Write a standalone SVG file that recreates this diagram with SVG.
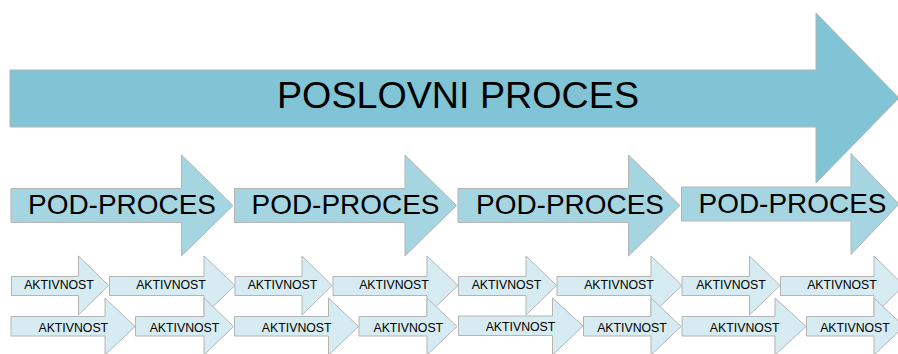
<svg xmlns="http://www.w3.org/2000/svg" width="898" height="354" viewBox="0 0 898 354">
<style>
.big{fill:#80C4D5;stroke:#B4B4B4;stroke-width:1}
.pod{fill:#A6D5E2;stroke:#B4B4B4;stroke-width:1}
.act{fill:#D6ECF2;stroke:#B4B4B4;stroke-width:1}
text{font-family:"Liberation Sans",Arial,sans-serif;fill:#000;text-anchor:middle}
.tb{font-size:36.5px}
.tp{font-size:27.5px}
.ta{font-size:12.3px}
</style>
<rect width="898" height="354" fill="#fff"/>
<g id="poslovni-proces">
<polygon class="big" points="10,70 816,70 816,13 899,98 816,183 816,127 10,127"/>
<text class="tb" x="458" y="108" textLength="362" lengthAdjust="spacingAndGlyphs">POSLOVNI PROCES</text>
</g>
<g id="pod-proces-1">
<polygon class="pod" points="11,188.5 181.5,188.5 181.5,155 233,205.5 181.5,256 181.5,222.5 11,222.5"/>
<text class="tp" x="122" y="214" textLength="188" lengthAdjust="spacingAndGlyphs">POD-PROCES</text>
</g>
<g id="pod-proces-2">
<polygon class="pod" points="234.5,188.5 405,188.5 405,155 456.5,205.5 405,256 405,222.5 234.5,222.5"/>
<text class="tp" x="345.5" y="214" textLength="188" lengthAdjust="spacingAndGlyphs">POD-PROCES</text>
</g>
<g id="pod-proces-3">
<polygon class="pod" points="458,188.5 628.5,188.5 628.5,155 680,205.5 628.5,256 628.5,222.5 458,222.5"/>
<text class="tp" x="570" y="214" textLength="188" lengthAdjust="spacingAndGlyphs">POD-PROCES</text>
</g>
<g id="pod-proces-4">
<polygon class="pod" points="681.5,187 851,187 851,153.5 899,204 851,254.5 851,221 681.5,221"/>
<text class="tp" x="792.5" y="212.5" textLength="188" lengthAdjust="spacingAndGlyphs">POD-PROCES</text>
</g>
<!-- row A -->
<g id="aktivnost-a1"><polygon class="act" points="11.5,276.5 78.5,276.5 78.5,256 108.5,285.5 78.5,315 78.5,295.5 11.5,295.5"/><text class="ta" x="59" y="289">AKTIVNOST</text></g>
<g id="aktivnost-a2"><polygon class="act" points="109.5,276.5 204,276.5 204,256 235,285.5 204,315 204,295.5 109.5,295.5"/><text class="ta" x="171" y="289">AKTIVNOST</text></g>
<g id="aktivnost-a3"><polygon class="act" points="235,276.5 302,276.5 302,256 332,285.5 302,315 302,295.5 235,295.5"/><text class="ta" x="282.5" y="289">AKTIVNOST</text></g>
<g id="aktivnost-a4"><polygon class="act" points="333,276.5 427,276.5 427,256 458,285.5 427,315 427,295.5 333,295.5"/><text class="ta" x="394" y="289">AKTIVNOST</text></g>
<g id="aktivnost-a5"><polygon class="act" points="458.5,276.5 526,276.5 526,256 556.5,285.5 526,315 526,295.5 458.5,295.5"/><text class="ta" x="506.5" y="289">AKTIVNOST</text></g>
<g id="aktivnost-a6"><polygon class="act" points="557,276.5 651,276.5 651,256 682,285.5 651,315 651,295.5 557,295.5"/><text class="ta" x="619" y="289">AKTIVNOST</text></g>
<g id="aktivnost-a7"><polygon class="act" points="682,276.5 749.5,276.5 749.5,256 780,285.5 749.5,315 749.5,295.5 682,295.5"/><text class="ta" x="731" y="289">AKTIVNOST</text></g>
<g id="aktivnost-a8"><polygon class="act" points="780.5,276.5 874,276.5 874,256 904,285.5 874,315 874,295.5 780.5,295.5"/><text class="ta" x="842" y="289">AKTIVNOST</text></g>
<!-- row B -->
<g id="aktivnost-b1"><polygon class="act" points="11,316.5 105,316.5 105,298 135,326.5 105,355 105,336 11,336"/><text class="ta" x="73.3" y="331.5">AKTIVNOST</text></g>
<g id="aktivnost-b2"><polygon class="act" points="135.5,316.5 204,316.5 204,298 233.5,326.5 204,355 204,336 135.5,336"/><text class="ta" x="184.5" y="331.5">AKTIVNOST</text></g>
<g id="aktivnost-b3"><polygon class="act" points="234.5,316.5 328.5,316.5 328.5,298 358.5,326.5 328.5,355 328.5,336 234.5,336"/><text class="ta" x="296.7" y="331.5">AKTIVNOST</text></g>
<g id="aktivnost-b4"><polygon class="act" points="359,316.5 427,316.5 427,298 457,326.5 427,355 427,336 359,336"/><text class="ta" x="408.3" y="331.5">AKTIVNOST</text></g>
<g id="aktivnost-b5"><polygon class="act" points="458.5,316 552.5,316 552.5,298 583,326 552.5,355 552.5,335.5 458.5,335.5"/><text class="ta" x="520.5" y="330.5">AKTIVNOST</text></g>
<g id="aktivnost-b6"><polygon class="act" points="583.5,316.5 651,316.5 651,298 681,326.5 651,355 651,336 583.5,336"/><text class="ta" x="632" y="331.5">AKTIVNOST</text></g>
<g id="aktivnost-b7"><polygon class="act" points="682,316.5 775,316.5 775,298 806,326.5 775,355 775,336 682,336"/><text class="ta" x="744.7" y="331.5">AKTIVNOST</text></g>
<g id="aktivnost-b8"><polygon class="act" points="806.5,316.5 874,316.5 874,298 904,326.5 874,355 874,336 806.5,336"/><text class="ta" x="855" y="331.5">AKTIVNOST</text></g>
<g id="connectors"></g>
</svg>
